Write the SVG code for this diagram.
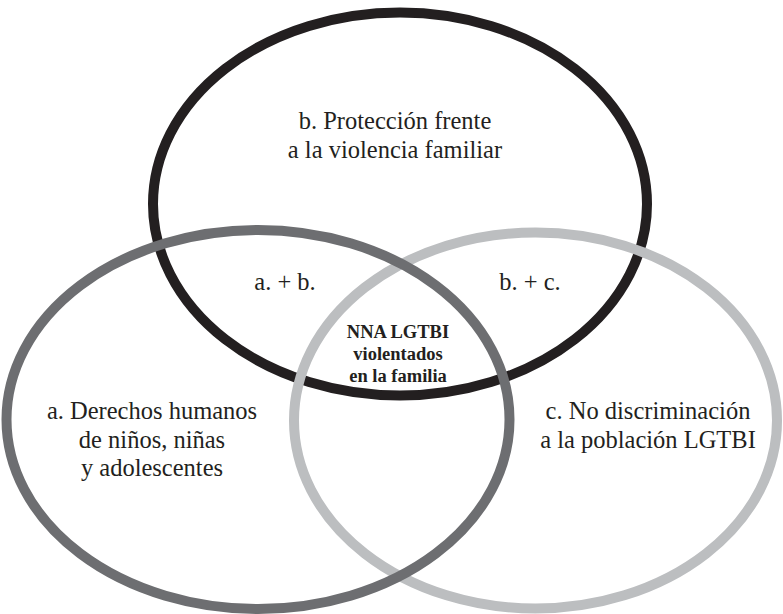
<svg xmlns="http://www.w3.org/2000/svg" width="783" height="614" viewBox="0 0 783 614">
<style>
.ring{fill:none;stroke-width:10}
.t{font-family:"Liberation Serif","Times New Roman",serif;font-size:24.5px;fill:#231f20;text-anchor:middle}
.b{font-family:"Liberation Serif","Times New Roman",serif;font-size:18.5px;font-weight:bold;fill:#231f20;text-anchor:middle}
</style>
<rect width="783" height="614" fill="#fff"/>
<g id="circles">
<g id="node-b"><ellipse class="ring" cx="400" cy="204" rx="247" ry="191.5" stroke="#231f20"/></g>
<g id="node-c"><ellipse class="ring" cx="535.5" cy="420.5" rx="241.5" ry="188" stroke="#bcbec0"/></g>
<g id="node-a"><ellipse class="ring" cx="258" cy="419.5" rx="251.5" ry="189.5" stroke="#6d6e71"/></g>
</g>
<g id="labels">
<text class="t" x="395" y="129">b. Protección frente</text>
<text class="t" x="395" y="158">a la violencia familiar</text>
<text class="t" x="285" y="290">a. + b.</text>
<text class="t" x="530" y="290">b. + c.</text>
<text class="b" x="398" y="338">NNA LGTBI</text>
<text class="b" x="398" y="360">violentados</text>
<text class="b" x="398" y="382">en la familia</text>
<text class="t" x="152" y="419">a. Derechos humanos</text>
<text class="t" x="152" y="448">de niños, niñas</text>
<text class="t" x="152" y="476">y adolescentes</text>
<text class="t" x="648" y="419">c. No discriminación</text>
<text class="t" x="648" y="448">a la población LGTBI</text>
</g>
</svg>
